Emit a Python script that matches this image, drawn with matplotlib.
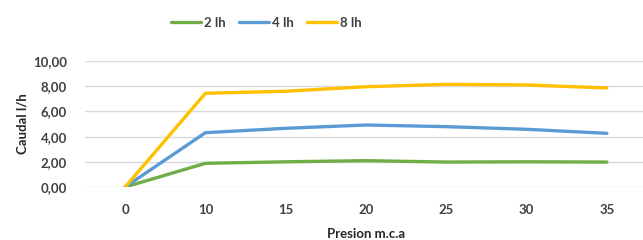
import matplotlib
matplotlib.use("Agg")
import matplotlib.pyplot as plt
from matplotlib.ticker import FuncFormatter

categories = ["0", "10", "15", "20", "25", "30", "35"]
s2 = [0.0, 1.88, 2.00, 2.09, 1.98, 2.00, 1.98]
s4 = [0.0, 4.31, 4.66, 4.92, 4.79, 4.58, 4.26]
s8 = [0.0, 7.44, 7.60, 7.96, 8.15, 8.10, 7.86]
labels = ["2 lh", "4 lh", "8 lh"]
colors = ["#70AD47", "#5B9BD5", "#FFC000"]

plt.rcParams['font.family'] = ['Lato', 'DejaVu Sans']
fs = 9.5
fig = plt.figure(figsize=(6.43, 2.40), dpi=100)
ax = fig.add_axes([85/643, (240-187)/240, (647-85)/643, (187-61)/240])

x = range(len(categories))
for vals, lab, c in zip([s2, s4, s8], labels, colors):
    ax.plot(x, vals, color=c, lw=2.4, label=lab, solid_capstyle='round')

ax.set_xlim(-0.5, 6.5)
ax.set_ylim(0, 10)
ax.set_yticks([0, 2, 4, 6, 8, 10])
ax.yaxis.set_major_formatter(FuncFormatter(lambda v, p: f"{v:.2f}".replace('.', ',')))
ax.set_xticks(list(x))
ax.set_xticklabels(categories)
ax.grid(axis='y', color='#D9D9D9', lw=1)
ax.set_axisbelow(True)
for s in ax.spines.values():
    s.set_visible(False)
ax.tick_params(axis='both', length=0, labelsize=fs, labelcolor='#404040')
ax.tick_params(axis='x', pad=12)
ax.tick_params(axis='y', pad=13)
for t in ax.get_xticklabels() + ax.get_yticklabels():
    t.set_fontweight('bold')
ax.set_xlabel("Presion m.c.a", fontsize=fs, fontweight='bold', color='#262626', labelpad=9)
ax.set_ylabel("Caudal l/h", fontsize=fs, fontweight='bold', color='#262626', labelpad=3)

fig.legend(loc='center', bbox_to_anchor=(266/643, 1 - 23/240), ncol=3, frameon=False,
           handlelength=2.3, handletextpad=0.2, columnspacing=1.0,
           prop={'weight': 'bold', 'size': fs})
for t in fig.legends[0].get_texts():
    t.set_color('#404040')

fig.savefig("out.png", dpi=100)
